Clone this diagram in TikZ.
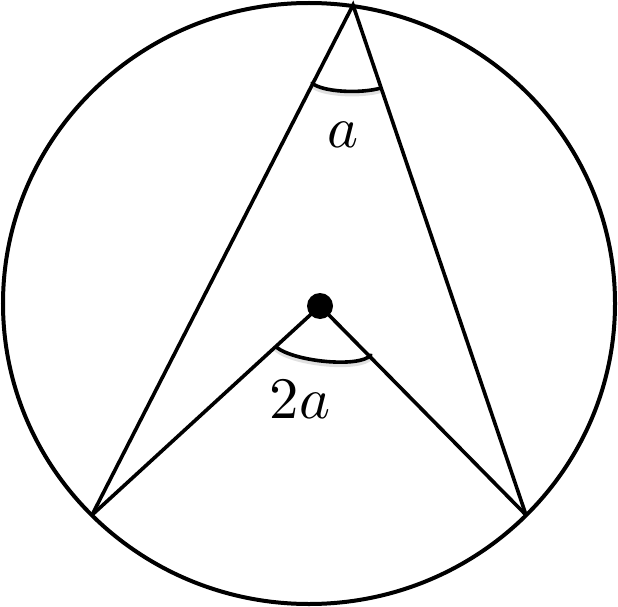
\documentclass[tikz,border=0pt]{standalone}
\tikzset{
  stroke/.style={line width=3.6bp, black},
  anglemark/.style={line width=3.6bp, black, line cap=round},
  anglesh/.style={line width=4bp, black!12, line cap=round},
  lbl/.style={inner sep=0pt, scale=5.9},
}
\begin{document}
\begin{tikzpicture}[x=1bp,y=-1bp]
\useasboundingbox (0,0) rectangle (618,607);
\coordinate (O) at (309,303.5);
\draw[stroke, line width=4bp] (O) ellipse [x radius=306, y radius=300.5];
\coordinate (A) at (353,5);
\coordinate (B) at (92,515);
\coordinate (C) at (526,515);
\coordinate (D) at (320,306);
% angle marks (with faint shadow)
\coordinate (t1) at (312,83);
\coordinate (t2) at (381,88);
\coordinate (b1) at (276,347);
\coordinate (b2) at (371,355);
\draw[anglesh] ([yshift=-3bp]t1) .. controls ([yshift=-3bp]322,92) and ([yshift=-3bp]360,94) .. ([yshift=-3bp]t2);
\draw[anglesh] ([yshift=-3bp]b1) .. controls ([yshift=-3bp]295,362) and ([yshift=-3bp]360,368) .. ([yshift=-3bp]b2);
\draw[anglemark] (t1) .. controls (322,92) and (360,94) .. (t2);
\draw[anglemark] (b1) .. controls (295,362) and (360,368) .. (b2);
\draw[stroke, line join=miter] (B) -- (A) -- (C);
\draw[stroke] (B) -- (D) -- (C);
\node[circle, fill=black, inner sep=0pt, minimum size=26bp] (dot) at (D) {};
\node[lbl] (la) at (343,135) {$a$};
\node[lbl] (l2a) at (300,400) {$2a$};
\end{tikzpicture}
\end{document}
